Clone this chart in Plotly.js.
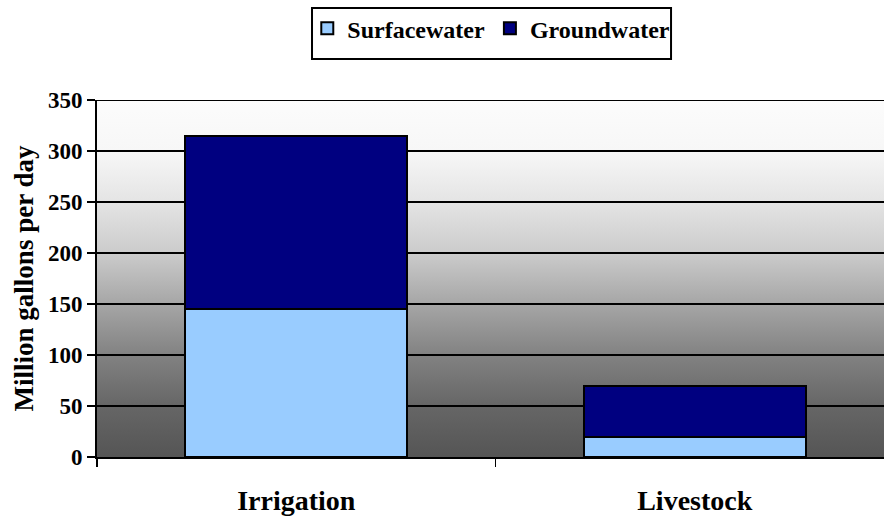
<!DOCTYPE html>
<html>
<head>
<meta charset="utf-8">
<script src="https://cdn.plot.ly/plotly-3.0.1.min.js"></script>
<style>html,body{margin:0;padding:0;background:#fff;}#chart{width:884px;height:525px;}</style>
</head>
<body>
<div id="chart"></div>
<script>
const categories = ["Irrigation", "Livestock"];
const surfacewater = [145, 20];
const groundwater = [170, 50];
const seriesNames = ["Surfacewater", "Groundwater"];

const gradSvg = '<svg xmlns="http://www.w3.org/2000/svg" width="10" height="100" preserveAspectRatio="none"><defs><linearGradient id="g" x1="0" y1="0" x2="0" y2="1">' +
  '<stop offset="0" stop-color="#fcfcfc"/><stop offset="0.143" stop-color="#f7f7f7"/><stop offset="0.286" stop-color="#e4e4e4"/>' +
  '<stop offset="0.43" stop-color="#cbcbcb"/><stop offset="0.571" stop-color="#a6a6a6"/><stop offset="0.714" stop-color="#828282"/>' +
  '<stop offset="0.857" stop-color="#666666"/><stop offset="1" stop-color="#555555"/>' +
  '</linearGradient></defs><rect width="10" height="100" fill="url(#g)"/></svg>';
const gradUri = 'data:image/svg+xml;base64,' + btoa(gradSvg);

const font = "'Liberation Serif', 'Times New Roman', serif";

const traces = [
  {type: "bar", name: seriesNames[0], x: categories, y: surfacewater,
   marker: {color: "#99ccff", line: {color: "#000", width: 2}}},
  {type: "bar", name: seriesNames[1], x: categories, y: groundwater,
   marker: {color: "#000080", line: {color: "#000", width: 2}}}
];

const layout = {
  width: 884, height: 525,
  margin: {l: 97, r: 0, t: 100, b: 68},
  paper_bgcolor: "#ffffff",
  plot_bgcolor: "rgba(0,0,0,0)",
  barmode: "stack",
  bargap: 0.443,
  font: {family: font, color: "#000", size: 20},
  showlegend: true,
  legend: {orientation: "h", x: 0.501, xanchor: "center", y: 1.2, yanchor: "middle",
           borderwidth: 0, bgcolor: "rgba(0,0,0,0)",
           font: {family: font, size: 24, weight: "bold"}, traceorder: "normal",
           itemwidth: 30},
  xaxis: {type: "category", range: [-0.5, 1.475], tickson: "boundaries", ticks: "outside", ticklen: 8, tickwidth: 1.5, tickcolor: "#000",
          showline: true, linecolor: "#000", linewidth: 2, showgrid: false,
          tickfont: {family: font, size: 28, weight: "bold"}, ticklabelstandoff: 17},
  yaxis: {range: [0, 350], dtick: 50, ticks: "outside", ticklen: 8, tickwidth: 1.5, tickcolor: "#000",
          showline: true, linecolor: "#000", linewidth: 2, showgrid: true, gridcolor: "#000", gridwidth: 1.5,
          zeroline: false, tickfont: {family: font, size: 23, weight: "bold"},
          title: {text: "Million gallons per day", font: {family: font, size: 27, weight: "bold"}, standoff: 6}},
  shapes: [
    {type: "line", xref: "paper", yref: "y", x0: 0, x1: 1, y0: 350, y1: 350, line: {color: "#000", width: 2}},
    {type: "rect", xref: "paper", yref: "paper", x0: 0.2732, x1: 0.7294, y0: 1.1148, y1: 1.2577,
     line: {color: "#000", width: 2}, fillcolor: "rgba(0,0,0,0)"}
  ],
  images: [{source: gradUri, xref: "paper", yref: "paper", x: 0, y: 1, sizex: 1, sizey: 1,
            xanchor: "left", yanchor: "top", sizing: "stretch", layer: "below"}]
};

Plotly.newPlot("chart", traces, layout, {displayModeBar: false, staticPlot: true});
</script>
</body>
</html>
